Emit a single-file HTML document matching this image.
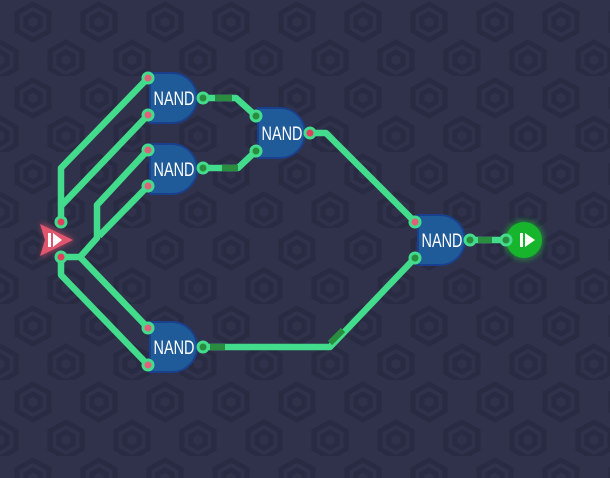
<!DOCTYPE html>
<html><head><meta charset="utf-8"><style>
html,body{margin:0;padding:0;background:#2e3149;width:610px;height:478px;overflow:hidden}
text{font-family:"Liberation Sans",sans-serif;}
</style></head><body>
<svg width="610" height="478" viewBox="0 0 610 478">
<defs>
<pattern id="hex" width="66" height="76" patternUnits="userSpaceOnUse">
<g fill="none" stroke="#282b42" stroke-width="5">
<polygon points="33,4 49,13 49,31 33,40 17,31 17,13"/>
<polygon points="33,14 40,18 40,26 33,30 26,26 26,18"/>
<polygon points="0,42 16,51 16,69 0,78 -16,69 -16,51"/>
<polygon points="66,42 82,51 82,69 66,78 50,69 50,51"/>
<polygon points="0,52 7,56 7,64 0,68 -7,64 -7,56"/>
<polygon points="66,52 73,56 73,64 66,68 59,64 59,56"/>
</g>
</pattern>
<filter id="glow" x="-50%" y="-50%" width="200%" height="200%"><feGaussianBlur stdDeviation="3"/></filter>
</defs>
<rect width="610" height="478" fill="#2f324a"/>
<rect width="610" height="478" fill="url(#hex)"/>

<g fill="none" stroke="#43dc8c" stroke-width="6.5" stroke-linejoin="round">
<polyline points="61,222 61,168 148,78"/>
<polyline points="61,206 148,115"/>
<polyline points="61,257 80,257 97,238 97,205 148,150"/>
<polyline points="99,236 148,186"/>
<polyline points="80,257 148,328"/>
<polyline points="61,257 61,275 148,365"/>
<polyline points="203,98 236,98 256,116"/>
<polyline points="203,168 238,168 256,151"/>
<polyline points="310,133 326,133 415,222"/>
<polyline points="203,347 330,347 415,258"/>
<polyline points="470,240 506,240"/>
</g>
<g stroke="#2a8c3e" stroke-width="6">
<line x1="215" y1="98" x2="232" y2="98"/><line x1="222" y1="168" x2="238" y2="168"/>
<line x1="210" y1="347" x2="225" y2="347"/><line x1="330" y1="343" x2="343" y2="330"/>
<line x1="478" y1="240" x2="492" y2="240"/>
</g>

<g id="gates"></g>

<g>
<polygon points="40,222 75,240 40,258 46,240" fill="#e0506a" opacity="0.6" filter="url(#glow)"/>
<polygon points="40,224 73,240 40,256 45,240" fill="#e0566e"/>
<rect x="48" y="233" width="3" height="14" fill="#fff"/>
<polygon points="53,233 62,240 53,247" fill="#fff"/>
</g>
<g>
<circle cx="524" cy="240" r="20" fill="#22c93b" opacity="0.5" filter="url(#glow)"/>
<circle cx="524" cy="240" r="18" fill="#17b52c"/>
<rect x="520" y="233" width="3" height="14" fill="#fff"/>
<polygon points="525,233 535,240 525,247" fill="#fff"/>
</g>
<g id="pins"></g>
</svg>
<script>
const NS='http://www.w3.org/2000/svg';
const gates=[[150,73,'gate1'],[150,144,'gate2'],[258,108,'gate3'],[150,322,'gate4'],[418,215,'gate5']];
const g=document.getElementById('gates');
gates.forEach(([x,y,n])=>{
 const p=document.createElementNS(NS,'path');
 p.setAttribute('d',`M${x},${y} h22 a25,25 0 0 1 0,50 h-22 z`);
 p.setAttribute('fill','#1f5b98');p.setAttribute('stroke','#1a3f8c');p.setAttribute('stroke-width','2');
 
 
 g.appendChild(p);
 const t=document.createElementNS(NS,'text');
 const cx=x+24;
 t.setAttribute('x',cx);t.setAttribute('y',y+32);t.setAttribute('text-anchor','middle');
 t.setAttribute('font-size','19');t.setAttribute('fill','#fff');
 t.setAttribute('transform',`translate(${cx},0) scale(0.76,1) translate(${-cx},0)`);
 t.textContent='NAND';
 
 
 g.appendChild(t);
});
const pins=[[148,78,'#e06078'],[148,115,'#e06078'],[148,150,'#e06078'],[148,186,'#e06078'],
[148,328,'#e06078'],[148,365,'#e06078'],[256,116,'#2a8c3e'],[256,151,'#2a8c3e'],[415,222,'#e06078'],[415,258,'#2a8c3e'],
[61,222,'#e0405e'],[61,257,'#e0405e'],[203,98,'#2a8c3e'],[203,168,'#2a8c3e'],[310,133,'#e0405e'],[203,347,'#2a8c3e'],[470,240,'#2a8c3e'],[506,240,'#2a8c3e']];
const pg=document.getElementById('pins');
pins.forEach(([x,y,c])=>{
 const ci=document.createElementNS(NS,'circle');
 ci.setAttribute('cx',x);ci.setAttribute('cy',y);ci.setAttribute('r','5');
 ci.setAttribute('fill',c);ci.setAttribute('stroke','#43dc8c');ci.setAttribute('stroke-width','3');
 
 
 pg.appendChild(ci);
});
</script>
</body></html>
